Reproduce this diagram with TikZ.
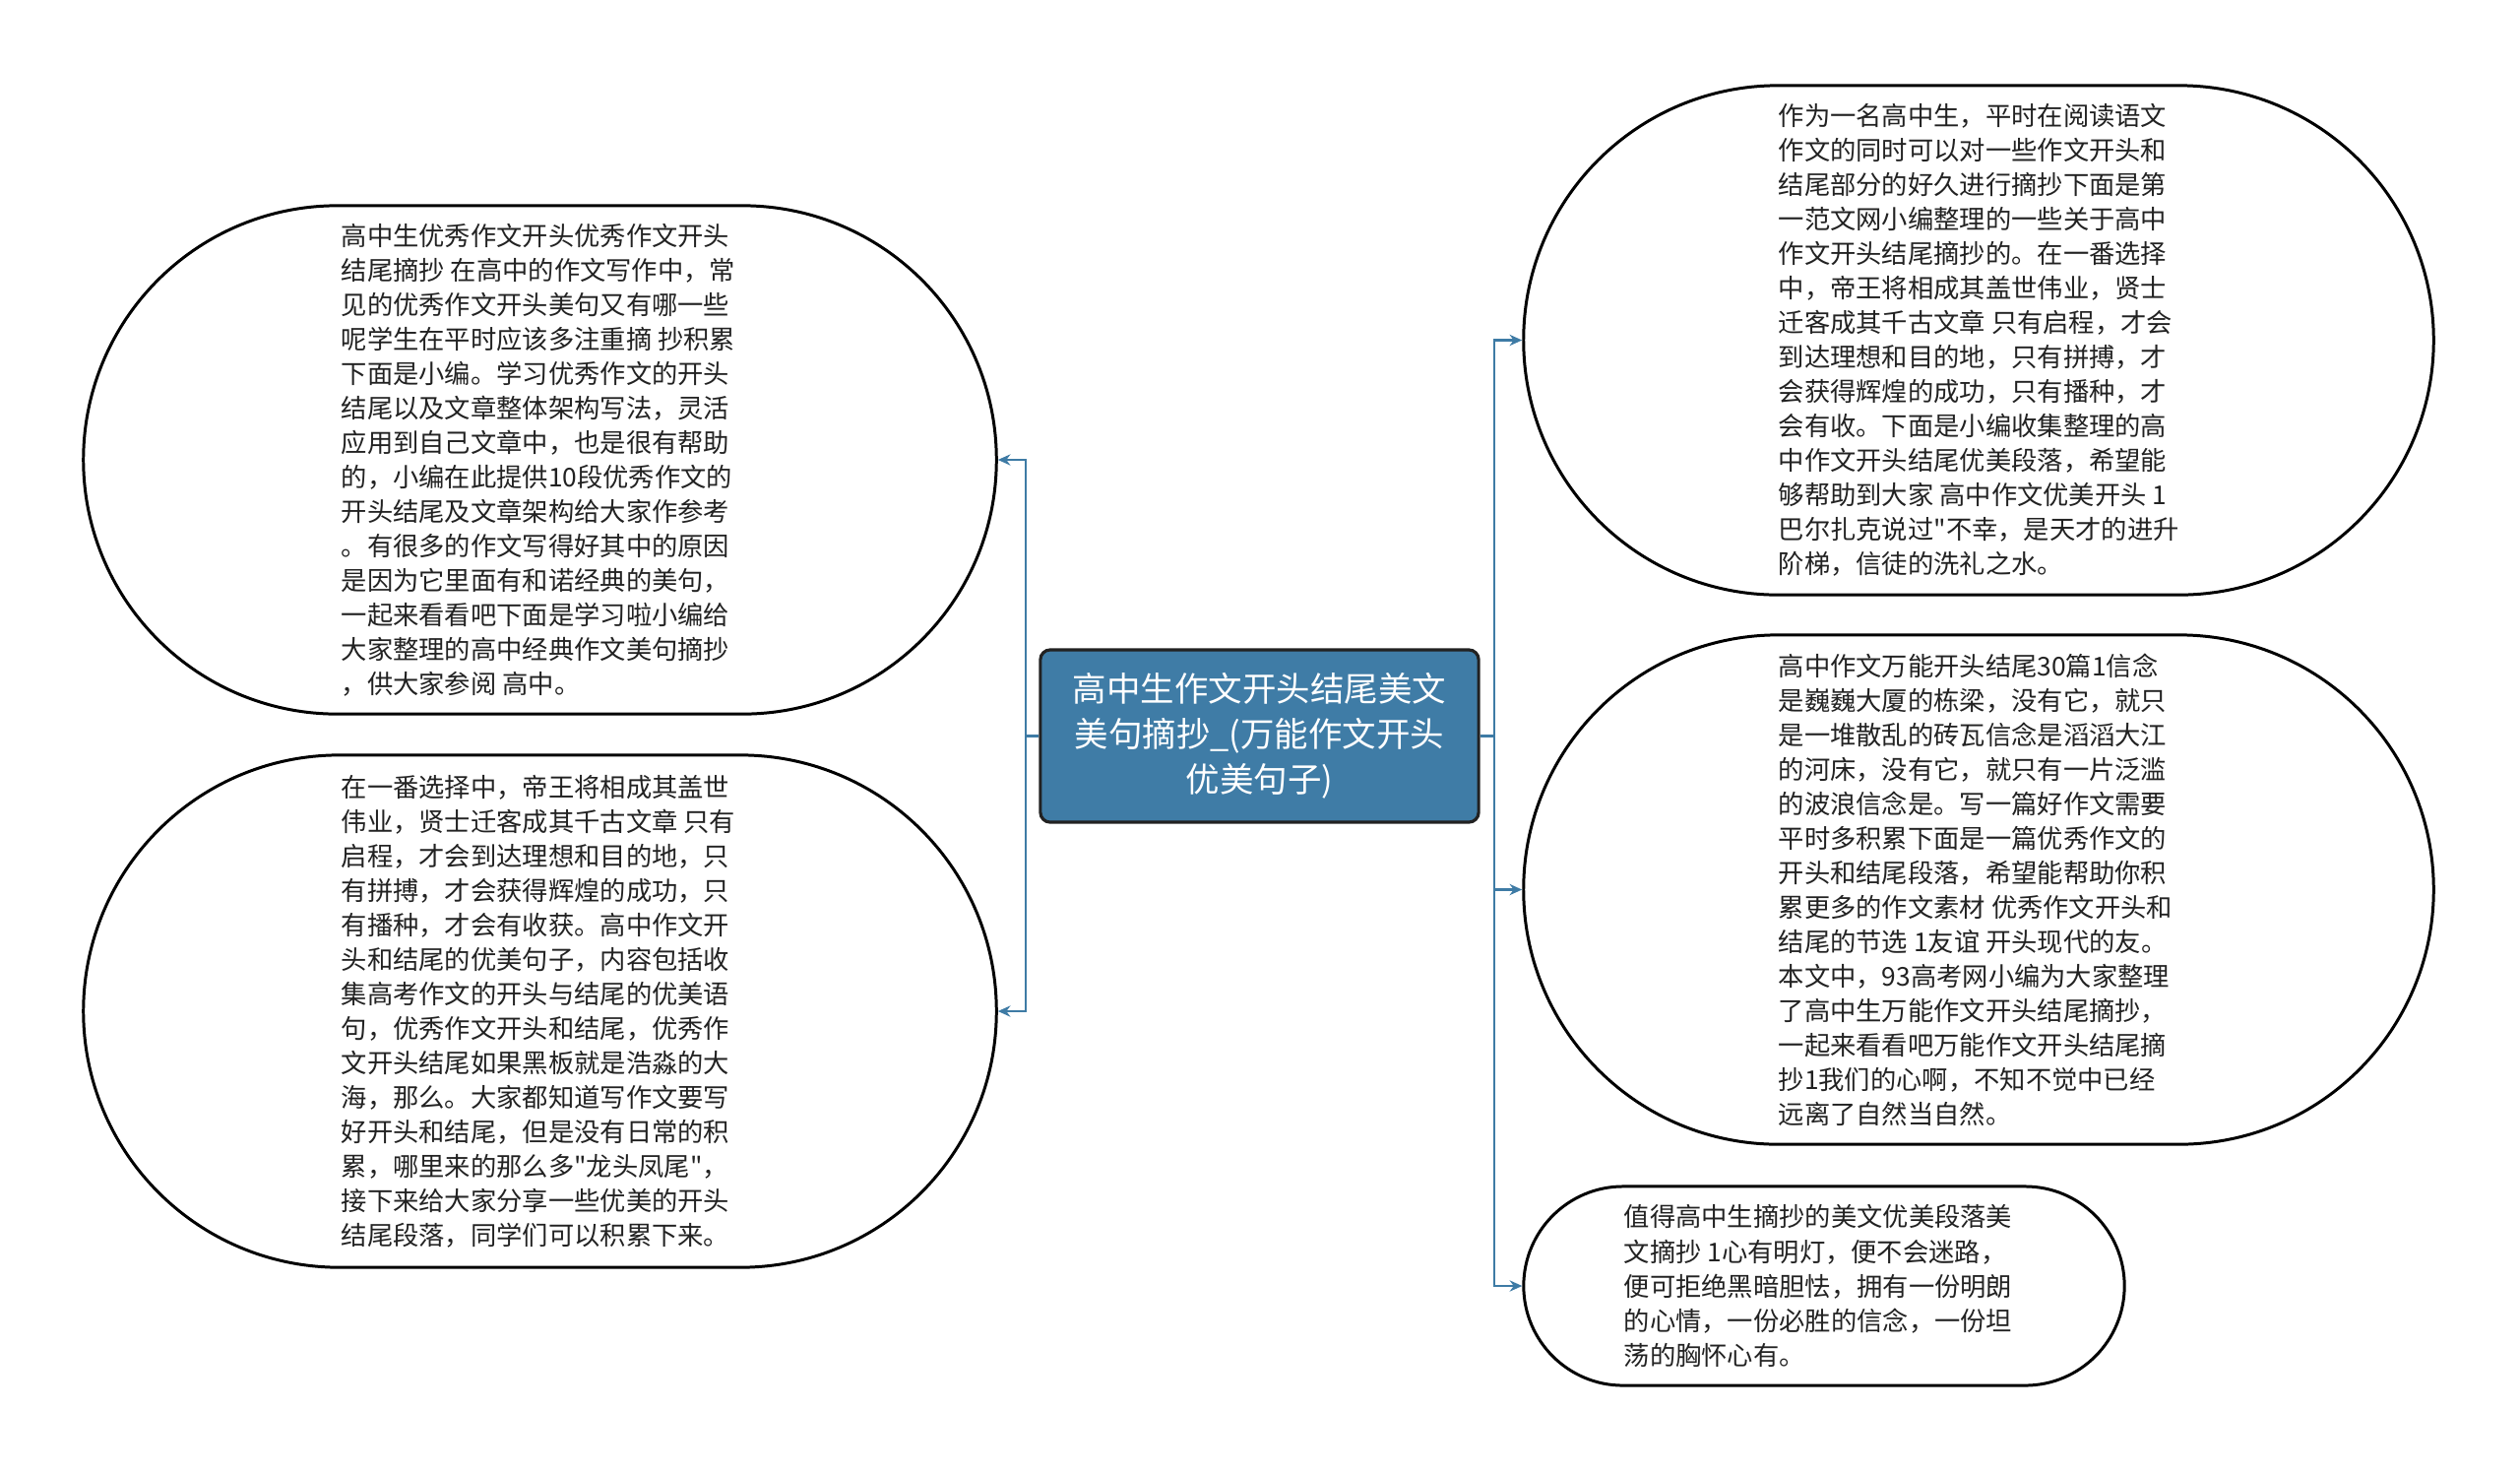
\documentclass[tikz,border=0pt]{standalone}
\usepackage{fontspec}
\setmainfont{Noto Sans CJK SC}[Ligatures=TeXOff]
\usetikzlibrary{arrows.meta}
\definecolor{boxblue}{RGB}{63,124,166}
\definecolor{linkblue}{RGB}{62,123,165}
\definecolor{inkgray}{RGB}{34,34,34}
\tikzset{
  bubble/.style={draw=black, line width=0.85pt, fill=white, inner sep=0pt},
  para/.style={anchor=west, align=left, inner sep=0pt, text=inkgray,
    font=\fontsize{7.48pt}{9.96pt}\selectfont},
  rootbox/.style={draw=inkgray, line width=0.9pt, fill=boxblue, rounded corners=0.1cm,
    text=white, align=center, inner sep=0pt,
    minimum width=4.45cm, minimum height=1.75cm,
    font=\fontsize{9.8pt}{13.1pt}\selectfont},
  conn/.style={draw=linkblue, line width=0.65pt, -{Stealth[length=3.6pt,width=3.2pt]}},
}
\begin{document}
\begin{tikzpicture}[x=0.01cm,y=-0.01cm]
\useasboundingbox (0,0) rectangle (2560,1496);
% shapes
\node[bubble, minimum width=9.27cm, minimum height=5.16cm, rounded corners=2.58cm] (L1) at (548.5,467) {};
\node[bubble, minimum width=9.27cm, minimum height=5.20cm, rounded corners=2.60cm] (L2) at (548.5,1027) {};
\node[bubble, minimum width=9.24cm, minimum height=5.17cm, rounded corners=2.585cm] (R1) at (2010,345.5) {};
\node[bubble, minimum width=9.24cm, minimum height=5.17cm, rounded corners=2.585cm] (R2) at (2010,903.5) {};
\node[bubble, minimum width=6.10cm, minimum height=2.02cm, rounded corners=1.01cm] (R3) at (1853,1306) {};
% root
\node[rootbox] (C) at (1279.5,747.5) {高中生作文开头结尾美文\\美句摘抄\_(万能作文开头\\优美句子)};
% texts
\node[para] (T1) at (346,467.5) {高中生优秀作文开头优秀作文开头\\结尾摘抄 在高中的作文写作中，常\\见的优秀作文开头美句又有哪一些\\呢学生在平时应该多注重摘 抄积累\\下面是小编。学习优秀作文的开头\\结尾以及文章整体架构写法，灵活\\应用到自己文章中，也是很有帮助\\的，小编在此提供10段优秀作文的\\开头结尾及文章架构给大家作参考\\。有很多的作文写得好其中的原因\\是因为它里面有和诺经典的美句，\\一起来看看吧下面是学习啦小编给\\大家整理的高中经典作文美句摘抄\\，供大家参阅 高中。};
\node[para] (T2) at (346,1027) {在一番选择中，帝王将相成其盖世\\伟业，贤士迁客成其千古文章 只有\\启程，才会到达理想和目的地，只\\有拼搏，才会获得辉煌的成功，只\\有播种，才会有收获。高中作文开\\头和结尾的优美句子，内容包括收\\集高考作文的开头与结尾的优美语\\句，优秀作文开头和结尾，优秀作\\文开头结尾如果黑板就是浩淼的大\\海，那么。大家都知道写作文要写\\好开头和结尾，但是没有日常的积\\累，哪里来的那么多"龙头凤尾"，\\接下来给大家分享一些优美的开头\\结尾段落，同学们可以积累下来。};
\node[para] (T3) at (1806,345.5) {作为一名高中生，平时在阅读语文\\作文的同时可以对一些作文开头和\\结尾部分的好久进行摘抄下面是第\\一范文网小编整理的一些关于高中\\作文开头结尾摘抄的。在一番选择\\中，帝王将相成其盖世伟业，贤士\\迁客成其千古文章 只有启程，才会\\到达理想和目的地，只有拼搏，才\\会获得辉煌的成功，只有播种，才\\会有收。下面是小编收集整理的高\\中作文开头结尾优美段落，希望能\\够帮助到大家 高中作文优美开头 1\\巴尔扎克说过"不幸，是天才的进升\\阶梯，信徒的洗礼之水。};
\node[para] (T4) at (1806,903.5) {高中作文万能开头结尾30篇1信念\\是巍巍大厦的栋梁，没有它，就只\\是一堆散乱的砖瓦信念是滔滔大江\\的河床，没有它，就只有一片泛滥\\的波浪信念是。写一篇好作文需要\\平时多积累下面是一篇优秀作文的\\开头和结尾段落，希望能帮助你积\\累更多的作文素材 优秀作文开头和\\结尾的节选 1友谊 开头现代的友。\\本文中，93高考网小编为大家整理\\了高中生万能作文开头结尾摘抄，\\一起来看看吧万能作文开头结尾摘\\抄1我们的心啊，不知不觉中已经\\远离了自然当自然。};
\node[para] (T5) at (1649,1306) {值得高中生摘抄的美文优美段落美\\文摘抄 1心有明灯，便不会迷路，\\便可拒绝黑暗胆怯，拥有一份明朗\\的心情，一份必胜的信念，一份坦\\荡的胸怀心有。};
% connectors
\coordinate (jl) at (1042,747.5);
\coordinate (jr) at (1518,747.5);
\draw[conn] (C.west) -- (jl) |- (L1.east);
\draw[conn] (C.west) -- (jl) |- (L2.east);
\draw[conn] (C.east) -- (jr) |- (R1.west);
\draw[conn] (C.east) -- (jr) |- (R2.west);
\draw[conn] (C.east) -- (jr) |- (R3.west);
\end{tikzpicture}
\end{document}
